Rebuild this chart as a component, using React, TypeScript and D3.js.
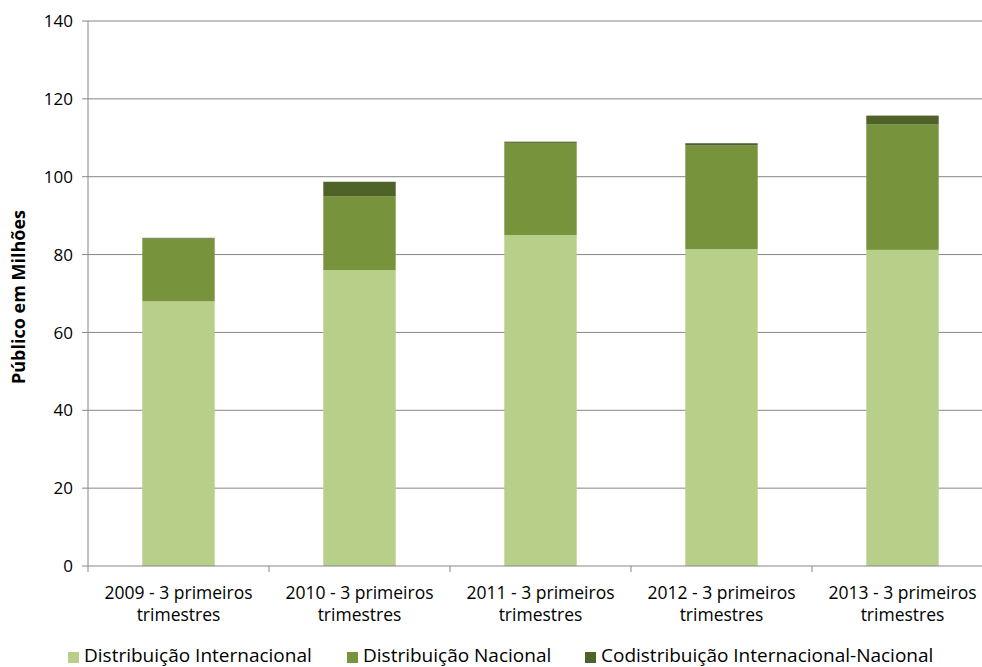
import React from "react";
import * as d3 from "d3";

const categories = [
  "2009 - 3 primeiros trimestres",
  "2010 - 3 primeiros trimestres",
  "2011 - 3 primeiros trimestres",
  "2012 - 3 primeiros trimestres",
  "2013 - 3 primeiros trimestres",
];
const seriesNames = [
  "Distribuição Internacional",
  "Distribuição Nacional",
  "Codistribuição Internacional-Nacional",
];
const internacional = [68.0, 76.0, 85.0, 81.4, 81.2];
const nacional = [16.1, 18.9, 23.7, 26.6, 32.2];
const codistribuicao = [0.2, 3.8, 0.3, 0.6, 2.3];
const yTicks = [0, 20, 40, 60, 80, 100, 120, 140];
const colors = ["#B7CF88", "#77933C", "#4F6228"];

const W = 982;
const H = 667;
const FONT = "'Open Sans', sans-serif";

export default function App() {
  const rows = categories.map((c, i) => ({
    cat: c,
    s0: internacional[i],
    s1: nacional[i],
    s2: codistribuicao[i],
  }));
  const stack = d3.stack<any>().keys(["s0", "s1", "s2"]);
  const layers = stack(rows);

  const x = d3.scaleBand().domain(categories).range([88, 993]).paddingInner(0.6).paddingOuter(0.3);
  const y = d3.scaleLinear().domain([0, 140]).range([566, 21]);
  const edges = d3.range(categories.length + 1).map((i) => 88 + i * x.step());

  const legendX = [68, 347, 585];

  return (
    <svg width={W} height={H} style={{ position: "absolute", left: 0, top: 0, background: "#fff" }}>
      {yTicks.map((t) => (
        <g key={t}>
          {t > 0 && <line x1={88} x2={993} y1={y(t)} y2={y(t)} stroke="#868686" strokeWidth={1} />}
          <line x1={82} x2={88} y1={y(t)} y2={y(t)} stroke="#868686" />
          <text x={73} y={y(t)} dy="0.36em" textAnchor="end" fontFamily={FONT} fontSize={17} fill="#000">
            {t}
          </text>
        </g>
      ))}
      {layers.map((layer, li) =>
        layer.map((d, i) => (
          <rect
            key={li + "-" + i}
            x={x(categories[i])}
            width={x.bandwidth()}
            y={y(d[1])}
            height={Math.max(0, y(d[0]) - y(d[1]))}
            fill={colors[li]}
          />
        ))
      )}
      <line x1={88} x2={88} y1={21} y2={566} stroke="#868686" />
      <line x1={88} x2={993} y1={566} y2={566} stroke="#868686" />
      {edges.map((e, i) => (
        <line key={i} x1={e} x2={e} y1={566} y2={572} stroke="#868686" />
      ))}
      {categories.map((c) => {
        const cx = (x(c) as number) + x.bandwidth() / 2;
        const parts = c.split(" trimestres");
        return (
          <text key={c} x={cx} textAnchor="middle" fontFamily={FONT} fontSize={17.5} fill="#000">
            <tspan x={cx} y={599}>{parts[0]}</tspan>
            <tspan x={cx} y={621}>trimestres</tspan>
          </text>
        );
      })}
      <text
        transform="translate(25,297) rotate(-90)"
        textAnchor="middle"
        fontFamily={FONT}
        fontSize={18}
        fontWeight="bold"
        fill="#000"
      >
        Público em Milhões
      </text>
      {seriesNames.map((n, i) => (
        <g key={n}>
          <rect x={legendX[i]} y={652} width={11} height={11} fill={colors[i]} />
          <text x={legendX[i] + 16} y={662} fontFamily={FONT} fontSize={19} fill="#000">
            {n}
          </text>
        </g>
      ))}
    </svg>
  );
}
